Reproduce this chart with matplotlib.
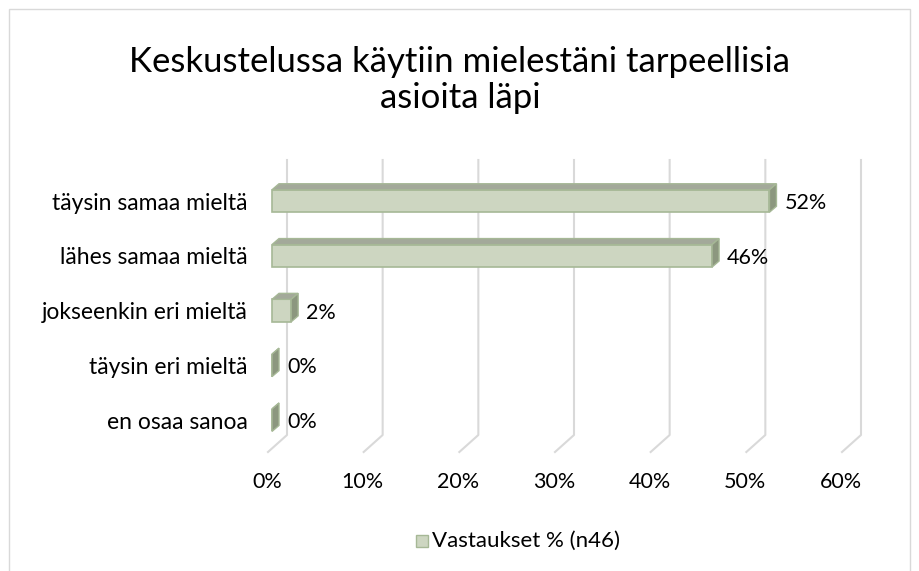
import matplotlib.pyplot as plt
import numpy as np
from matplotlib.patches import Polygon, Rectangle
from matplotlib.transforms import IdentityTransform

title = "Keskustelussa käytiin mielestäni tarpeellisia\nasioita läpi"
categories = ["täysin samaa mieltä", "lähes samaa mieltä", "jokseenkin eri mieltä",
              "täysin eri mieltä", "en osaa sanoa"]
values = [52, 46, 2, 0, 0]
value_labels = ["52%", "46%", "2%", "0%", "0%"]
ticks = [0, 10, 20, 30, 40, 50, 60]
tick_labels = ["0%", "10%", "20%", "30%", "40%", "50%", "60%"]
legend_label = "Vastaukset % (n46)"

W, H = 920, 571
FONT = "Lato"
fig = plt.figure(figsize=(W / 100, H / 100), dpi=100)

# axes = front floor plane, x in percent, y in category index
ax = fig.add_axes([268 / W, (H - 447.6) / H, (842 - 268) / W, 274 / H])
ax.set_xlim(0, 60)
ax.set_ylim(4.5, -0.5)
ax.axis("off")

idt = IdentityTransform()


def px(x, y):
    return ax.transData.transform((x, y))


# wall depth and bar depth (pixels)
wdx, wdy = 19, 17
bdx, bdy = 7, 6
grid_top = H - 160

for t in ticks:
    fx, fy = px(t, 4.5)
    fy = H - 452
    ax.add_line(plt.Line2D([fx, fx + wdx, fx + wdx], [fy, fy + wdy, grid_top],
                           transform=idt, color="#d9d9d9", lw=1.5, clip_on=False))

bar_h = 0.41
for i, v in enumerate(values):
    x0, yb = px(0, i + bar_h / 2)
    x1, yt = px(v, i - bar_h / 2)
    x0 += 4
    x1 += 4
    # front face
    fig.patches.append(Rectangle((x0, yb), x1 - x0, yt - yb, transform=idt,
                                 facecolor="#cdd6c1", edgecolor="#a6b896", lw=1.2))
    # top face
    fig.patches.append(Polygon([(x0, yt), (x1, yt), (x1 + bdx, yt + bdy), (x0 + bdx, yt + bdy)],
                               closed=True, transform=idt,
                               facecolor="#a3a99a", edgecolor="#a6b896", lw=1))
    # side face
    fig.patches.append(Polygon([(x1, yb), (x1 + bdx, yb + bdy), (x1 + bdx, yt + bdy), (x1, yt)],
                               closed=True, transform=idt,
                               facecolor="#8c977f", edgecolor="#a6b896", lw=1))
    cx, cy = px(v, i)
    fig.text((x1 + bdx + 8) / W, (cy - 2) / H, value_labels[i], fontsize=15.5,
             family=FONT, va="center", ha="left", color="#000000")
    lx, ly = px(0, i)
    fig.text(248 / W, (ly - 2) / H, categories[i], fontsize=16.5, family=FONT,
             va="center", ha="right", color="#000000")

for t, lab in zip(ticks, tick_labels):
    tx, _ = px(t, 4.5)
    fig.text((tx - 1) / W, (H - 482) / H, lab, fontsize=15.5, family=FONT,
             ha="center", va="center", color="#000000")

fig.text(460 / W, (H - 80) / H, title, fontsize=25, family=FONT, ha="center",
         va="center", linespacing=1.15, color="#000000")

# legend
fig.patches.append(Rectangle((416, H - 547), 12, 12, transform=idt,
                             facecolor="#cdd6c1", edgecolor="#a6b896", lw=1))
fig.text(432 / W, (H - 541) / H, legend_label, fontsize=16, family=FONT,
         ha="left", va="center", color="#000000")

# chart border
fig.patches.append(Rectangle((9, -5), 901, H - 4, transform=idt, fill=False,
                             edgecolor="#d9d9d9", lw=1))

fig.savefig("out.png", dpi=100)
